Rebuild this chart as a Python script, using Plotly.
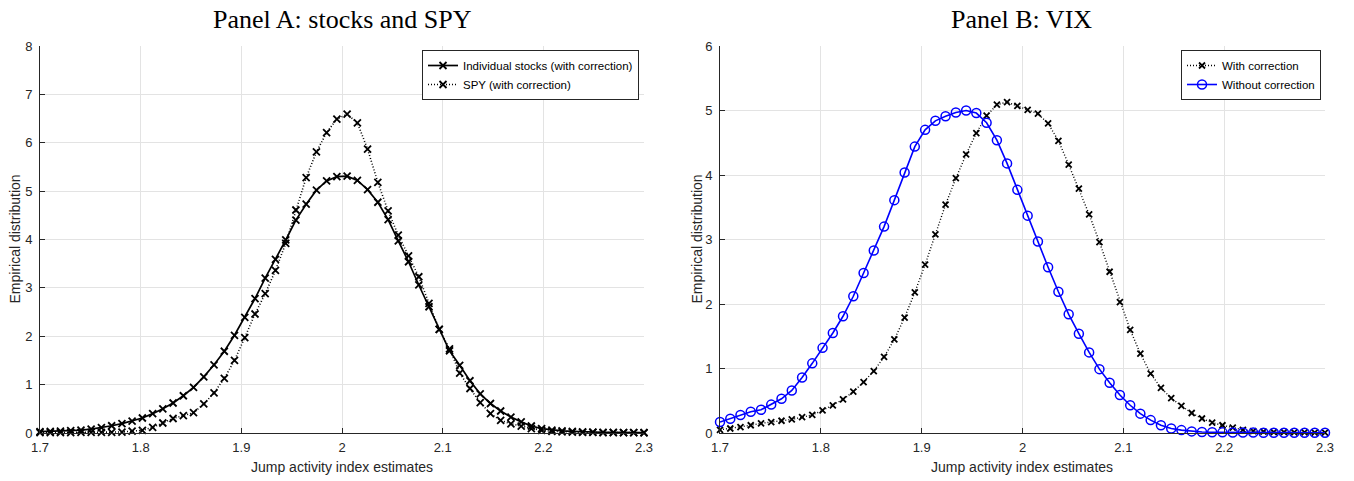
import plotly.graph_objects as go

# x grid (60 evaluation points between 1.7 and 2.3)
x_grid = [1.7, 1.7102, 1.7203, 1.7305, 1.7407, 1.7508, 1.761, 1.7712, 1.7814, 1.7915,
          1.8017, 1.8119, 1.822, 1.8322, 1.8424, 1.8525, 1.8627, 1.8729, 1.8831, 1.8932,
          1.9034, 1.9136, 1.9237, 1.9339, 1.9441, 1.9542, 1.9644, 1.9746, 1.9847, 1.9949,
          2.0051, 2.0153, 2.0254, 2.0356, 2.0458, 2.0559, 2.0661, 2.0763, 2.0864, 2.0966,
          2.1068, 2.1169, 2.1271, 2.1373, 2.1475, 2.1576, 2.1678, 2.178, 2.1881, 2.1983,
          2.2085, 2.2186, 2.2288, 2.239, 2.2492, 2.2593, 2.2695, 2.2797, 2.2898, 2.3]

# Panel A
stocks = [0.03, 0.035, 0.04, 0.05, 0.06, 0.08, 0.11, 0.15, 0.195, 0.245,
          0.31, 0.40, 0.50, 0.62, 0.77, 0.945, 1.16, 1.41, 1.69, 2.02,
          2.39, 2.78, 3.20, 3.59, 3.99, 4.40, 4.73, 5.02, 5.21, 5.30,
          5.31, 5.22, 5.03, 4.77, 4.41, 3.97, 3.54, 3.06, 2.61, 2.14,
          1.70, 1.40, 1.08, 0.81, 0.61, 0.455, 0.33, 0.23, 0.145, 0.09,
          0.06, 0.045, 0.035, 0.025, 0.02, 0.015, 0.012, 0.01, 0.008, 0.006]
spy = [0.01, 0.01, 0.01, 0.01, 0.012, 0.012, 0.013, 0.015, 0.02, 0.04,
       0.055, 0.117, 0.207, 0.30, 0.36, 0.42, 0.60, 0.83, 1.13, 1.50,
       1.97, 2.46, 2.88, 3.36, 3.92, 4.61, 5.28, 5.81, 6.21, 6.49,
       6.59, 6.41, 5.87, 5.18, 4.59, 4.09, 3.66, 3.23, 2.68, 2.14,
       1.74, 1.24, 0.92, 0.63, 0.40, 0.26, 0.19, 0.14, 0.09, 0.055,
       0.035, 0.025, 0.02, 0.015, 0.012, 0.01, 0.008, 0.007, 0.006, 0.005]

# Panel B
vix_with = [0.05, 0.07, 0.09, 0.12, 0.15, 0.17, 0.19, 0.21, 0.245, 0.28,
            0.35, 0.43, 0.52, 0.64, 0.79, 0.96, 1.18, 1.45, 1.79, 2.18,
            2.61, 3.08, 3.54, 3.95, 4.32, 4.65, 4.92, 5.09, 5.13, 5.07,
            5.01, 4.95, 4.80, 4.53, 4.16, 3.79, 3.39, 2.96, 2.50, 2.03,
            1.60, 1.23, 0.92, 0.70, 0.54, 0.42, 0.31, 0.225, 0.16, 0.12,
            0.085, 0.05, 0.03, 0.02, 0.015, 0.012, 0.01, 0.008, 0.007, 0.006]
vix_without = [0.17, 0.22, 0.28, 0.33, 0.36, 0.44, 0.53, 0.66, 0.86, 1.08,
               1.32, 1.55, 1.81, 2.12, 2.48, 2.83, 3.20, 3.61, 4.04, 4.44,
               4.70, 4.84, 4.91, 4.97, 5.00, 4.96, 4.81, 4.54, 4.18, 3.77,
               3.37, 2.97, 2.57, 2.19, 1.84, 1.54, 1.25, 0.99, 0.78, 0.59,
               0.43, 0.30, 0.20, 0.12, 0.07, 0.045, 0.025, 0.015, 0.012, 0.01,
               0.008, 0.007, 0.006, 0.005, 0.005, 0.004, 0.004, 0.003, 0.003, 0.003]

x_tickvals = [1.7, 1.8, 1.9, 2.0, 2.1, 2.2, 2.3]
x_ticktext = ["1.7", "1.8", "1.9", "2", "2.1", "2.2", "2.3"]
ya_ticks = [0, 1, 2, 3, 4, 5, 6, 7, 8]
yb_ticks = [0, 1, 2, 3, 4, 5, 6]

# Full-window figure; the page body margin is removed by a post script.
W, H = 1354, 481
L, R, T, B = 40, 1354 - 1325, 46, 481 - 433
pw = W - L - R
ph = H - T - B

def px_x(p):
    return (p - L) / pw

def px_y(p):
    return (H - B - p) / ph

fig = go.Figure()

fig.add_trace(go.Scatter(x=x_grid, y=stocks, mode="lines+markers",
                         name="Individual stocks (with correction)",
                         line=dict(color="black", width=1.7),
                         marker=dict(symbol="x-thin", size=7, line=dict(color="black", width=1.8)),
                         xaxis="x", yaxis="y", legend="legend", cliponaxis=False))
fig.add_trace(go.Scatter(x=x_grid, y=spy, mode="lines+markers",
                         name="SPY (with correction)",
                         line=dict(color="black", width=1.6, dash="1px,2px"),
                         marker=dict(symbol="x-thin", size=7, line=dict(color="black", width=1.8)),
                         xaxis="x", yaxis="y", legend="legend", cliponaxis=False))
fig.add_trace(go.Scatter(x=x_grid, y=vix_with, mode="lines+markers",
                         name="With correction",
                         line=dict(color="black", width=1.4, dash="1px,2px"),
                         marker=dict(symbol="x-thin", size=6, line=dict(color="black", width=1.8)),
                         xaxis="x2", yaxis="y2", legend="legend2", cliponaxis=False))
fig.add_trace(go.Scatter(x=x_grid, y=vix_without, mode="lines+markers",
                         name="Without correction",
                         line=dict(color="#0000ff", width=1.6),
                         marker=dict(symbol="circle-open", size=9, color="#0000ff",
                                     line=dict(color="#0000ff", width=1.5)),
                         xaxis="x2", yaxis="y2", legend="legend2", cliponaxis=False))

axis_common = dict(showgrid=True, gridcolor="#e3e3e3", gridwidth=1, zeroline=False,
                   showline=True, linecolor="#262626", linewidth=1,
                   ticks="inside", ticklen=5, tickcolor="#262626", tickwidth=1,
                   tickfont=dict(family="Liberation Sans, Arial", size=13, color="#262626"),
                   mirror=False, automargin=False)

xa_dom = [0, px_x(644)]
xb_dom = [px_x(720), 1]

legend_common = dict(xanchor="right", yanchor="top",
                     bgcolor="white", bordercolor="#262626", borderwidth=1,
                     font=dict(family="Liberation Sans, Arial", size=11.5, color="black"),
                     itemwidth=30, tracegroupgap=0)

fig.update_layout(
    width=W, height=H,
    margin=dict(l=L, r=R, t=T, b=B, autoexpand=False),
    paper_bgcolor="white", plot_bgcolor="white",
    xaxis=dict(domain=xa_dom, range=[1.7, 2.3], tickvals=x_tickvals, ticktext=x_ticktext,
               anchor="y", ticklabelstandoff=2, **axis_common),
    yaxis=dict(domain=[0, 1], range=[0, 8], tickvals=ya_ticks, anchor="x",
               ticklabelstandoff=4, **axis_common),
    xaxis2=dict(domain=xb_dom, range=[1.7, 2.3], tickvals=x_tickvals, ticktext=x_ticktext,
                anchor="y2", ticklabelstandoff=2, **axis_common),
    yaxis2=dict(domain=[0, 1], range=[0, 6], tickvals=yb_ticks, anchor="x2",
                ticklabelstandoff=4, **axis_common),
    legend=dict(x=px_x(639), y=px_y(50), **legend_common),
    legend2=dict(x=px_x(1321), y=px_y(50), **legend_common),
    showlegend=True,
)

ann_font = dict(family="Liberation Sans, Arial", size=14, color="#262626")
title_font = dict(family="Liberation Serif, Times New Roman, serif", size=26, color="black")
annotations = [
    dict(text="Panel A: stocks and SPY", x=px_x(342), y=px_y(19), xref="paper", yref="paper",
         showarrow=False, font=title_font, xanchor="center", yanchor="middle"),
    dict(text="Panel B: VIX", x=px_x(1022), y=px_y(19), xref="paper", yref="paper",
         showarrow=False, font=title_font, xanchor="center", yanchor="middle"),
    dict(text="Jump activity index estimates", x=px_x(342), y=px_y(467), xref="paper", yref="paper",
         showarrow=False, font=ann_font, xanchor="center", yanchor="middle"),
    dict(text="Jump activity index estimates", x=px_x(1022), y=px_y(467), xref="paper", yref="paper",
         showarrow=False, font=ann_font, xanchor="center", yanchor="middle"),
    dict(text="Empirical distribution", x=px_x(14), y=0.5, xref="paper", yref="paper",
         showarrow=False, font=ann_font, textangle=-90, xanchor="center", yanchor="middle"),
    dict(text="Empirical distribution", x=px_x(696), y=0.5, xref="paper", yref="paper",
         showarrow=False, font=ann_font, textangle=-90, xanchor="center", yanchor="middle"),
]
fig.update_layout(annotations=annotations)

fig.write_html("out.html", config={"displayModeBar": False},
               post_script="document.body.style.margin='0px';document.body.style.overflow='hidden';")
